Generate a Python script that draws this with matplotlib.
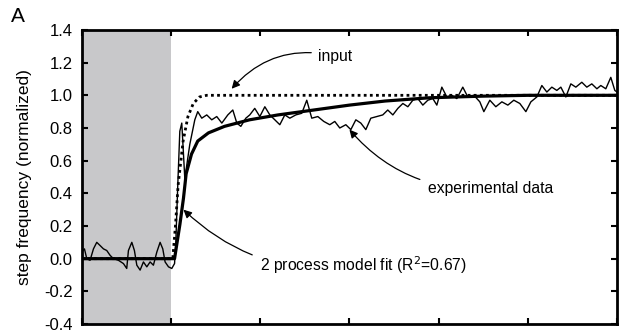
import numpy as np
import matplotlib
matplotlib.use("Agg")
import matplotlib.pyplot as plt

plt.rcParams["font.family"] = ["Liberation Sans", "DejaVu Sans"]

# experimental data (thin noisy trace)
exp_t = [0.00, 0.03, 0.056, 0.093, 0.131, 0.168, 0.206, 0.243, 0.280, 0.318,
         0.355, 0.411, 0.467, 0.504, 0.523, 0.561, 0.590, 0.617, 0.654, 0.691,
         0.729, 0.766, 0.803, 0.841, 0.878, 0.908, 0.934, 0.972, 1.009, 1.040,
         1.054, 1.076, 1.099, 1.121, 1.155, 1.211, 1.267, 1.300, 1.345, 1.401,
         1.457, 1.513, 1.570, 1.637, 1.693, 1.738, 1.783, 1.839, 1.883, 1.939,
         1.996, 2.052, 2.108, 2.164, 2.220, 2.276, 2.332, 2.399, 2.466, 2.522,
         2.578, 2.646, 2.713, 2.780, 2.836, 2.892, 2.960, 3.016, 3.072, 3.128,
         3.184, 3.240, 3.307, 3.374, 3.430, 3.487, 3.543, 3.599, 3.655, 3.711,
         3.767, 3.823, 3.879, 3.935, 3.980, 4.036, 4.092, 4.148, 4.204, 4.271,
         4.327, 4.395, 4.462, 4.507, 4.574, 4.641, 4.709, 4.776, 4.843, 4.910,
         4.978, 5.034, 5.101, 5.157, 5.213, 5.269, 5.325, 5.370, 5.426, 5.482,
         5.538, 5.605, 5.661, 5.717, 5.774, 5.818, 5.874, 5.930, 5.975, 6.000]
exp_y = [0.04, 0.06, 0.00, -0.01, 0.06, 0.10, 0.08, 0.06, 0.05, 0.02,
         0.00, -0.01, -0.03, -0.06, 0.05, 0.10, 0.05, -0.04, -0.07, -0.02,
         -0.05, -0.02, -0.04, 0.04, 0.10, 0.06, -0.02, -0.05, -0.06, -0.03,
         0.10, 0.45, 0.78, 0.83, 0.49, 0.70, 0.85, 0.90, 0.86, 0.88,
         0.85, 0.87, 0.83, 0.88, 0.91, 0.83, 0.81, 0.86, 0.88, 0.92,
         0.87, 0.93, 0.88, 0.85, 0.82, 0.88, 0.86, 0.88, 0.89, 0.97,
         0.86, 0.87, 0.84, 0.82, 0.84, 0.80, 0.82, 0.79, 0.85, 0.83,
         0.79, 0.86, 0.87, 0.88, 0.91, 0.88, 0.92, 0.95, 0.93, 0.97,
         0.98, 0.94, 0.97, 0.98, 0.94, 1.05, 0.99, 1.00, 0.98, 1.05,
         0.99, 1.00, 0.96, 0.90, 0.97, 0.93, 0.96, 0.94, 0.97, 0.95,
         0.90, 0.96, 0.99, 1.06, 1.02, 1.05, 1.03, 1.05, 0.99, 1.07,
         1.05, 1.08, 1.05, 1.07, 1.04, 1.06, 1.04, 1.11, 1.03, 1.02]

# input (dotted)
inp_t = [0.0, 1.02, 1.05, 1.08, 1.136, 1.19, 1.25, 1.32, 1.40, 6.0]
inp_y = [0.0, 0.0, 0.20, 0.45, 0.72, 0.87, 0.95, 0.99, 1.0, 1.0]

# 2 process model fit (thick)
fit_t = [0.0, 1.04, 1.10, 1.14, 1.17, 1.23, 1.30, 1.42, 1.60, 1.88,
         2.2, 2.6, 3.0, 3.4, 3.9, 4.5, 5.0, 6.0]
fit_y = [0.0, 0.0, 0.21, 0.37, 0.52, 0.64, 0.72, 0.77, 0.81, 0.85,
         0.88, 0.91, 0.94, 0.965, 0.985, 0.995, 1.0, 1.0]

yticks = [-0.4, -0.2, 0.0, 0.2, 0.4, 0.6, 0.8, 1.0, 1.2, 1.4]

fig = plt.figure(figsize=(6.29, 3.33), dpi=100)
ax = fig.add_axes([0.130, 0.027, 0.851, 0.883])

ax.axvspan(0, 1, color="#c8c8ca", lw=0, zorder=0)
ax.plot(inp_t, inp_y, color="black", lw=2.0, ls=(0, (1, 1.2)), zorder=2)
ax.plot(exp_t, exp_y, color="black", lw=1.0, zorder=3)
ax.plot(fit_t, fit_y, color="black", lw=2.3, zorder=4)

ax.set_xlim(0, 6)
ax.set_ylim(-0.4, 1.4)
ax.set_xticks(range(7))
ax.set_xticklabels([])
ax.set_yticks(yticks)
ax.set_yticklabels([f"{v:.1f}" for v in yticks])
ax.tick_params(direction="in", length=4, width=1.5, top=True, right=True,
               labelsize=12, pad=6.5)
for s in ax.spines.values():
    s.set_linewidth(2)
ax.set_ylabel("step frequency (normalized)", fontsize=12.5)
ax.yaxis.set_label_coords(-0.093, 0.5)

arrow = dict(arrowstyle="-|>", color="black", lw=0.9, mutation_scale=12)
ax.annotate("input", xy=(1.68, 1.04), xytext=(2.65, 1.24), fontsize=11.3,
            va="center", ha="left",
            arrowprops=dict(arrow, connectionstyle="arc3,rad=0.3",
                            shrinkA=3, shrinkB=0))
ax.annotate("experimental data", xy=(3.0, 0.79), xytext=(3.88, 0.43),
            fontsize=11.3, va="center", ha="left",
            arrowprops=dict(arrow, connectionstyle="arc3,rad=-0.25",
                            shrinkA=4, shrinkB=0))
ax.annotate("2 process model fit (R$^2$=0.67)", xy=(1.14, 0.30),
            xytext=(2.0, -0.04), fontsize=11.3, va="center", ha="left",
            arrowprops=dict(arrow, connectionstyle="arc3,rad=-0.25",
                            shrinkA=4, shrinkB=0))

fig.text(0.017, 0.934, "A", fontsize=15)

fig.savefig("out.png", dpi=100)
